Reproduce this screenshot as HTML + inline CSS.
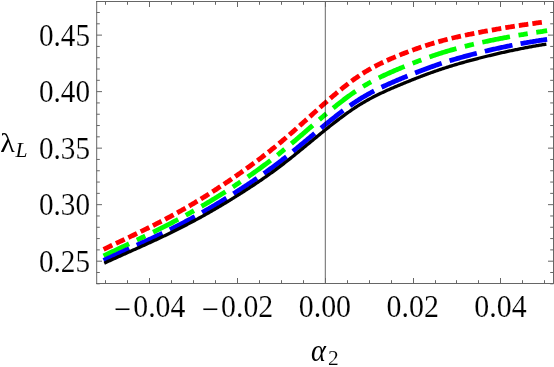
<!DOCTYPE html>
<html><head><meta charset="utf-8"><title>plot</title>
<style>
html,body{margin:0;padding:0;background:#fff;}
svg{display:block;}
text{font-family:"Liberation Serif",serif;fill:#000;stroke:#fff;stroke-width:0.12px;}
.it{font-style:italic;}
.ns{stroke:none;}
</style></head><body>
<svg width="554" height="367" viewBox="0 0 554 367">
<rect width="554" height="367" fill="#fff"/>
<path d="M105.75,248.29 L106.75,247.81 L107.75,247.34 L108.75,246.86 L109.75,246.39 L110.75,245.91 L111.75,245.44 L112.75,244.97 L113.75,244.49 L114.75,244.02 L115.75,243.54 L116.75,243.07 L117.75,242.60 L118.75,242.13 L119.75,241.65 L120.75,241.18 L121.75,240.71 L122.75,240.23 L123.75,239.76 L124.75,239.28 L125.75,238.81 L126.75,238.33 L127.75,237.86 L128.75,237.38 L129.75,236.91 L130.75,236.43 L131.75,235.95 L132.75,235.47 L133.75,234.99 L134.75,234.51 L135.75,234.03 L136.75,233.55 L137.75,233.07 L138.75,232.59 L139.75,232.10 L140.75,231.62 L141.75,231.13 L142.75,230.64 L143.75,230.15 L144.75,229.66 L145.75,229.17 L146.75,228.68 L147.75,228.18 L148.75,227.69 L149.75,227.19 L150.75,226.69 L151.75,226.19 L152.75,225.69 L153.75,225.19 L154.75,224.68 L155.75,224.17 L156.75,223.67 L157.75,223.15 L158.75,222.64 L159.75,222.13 L160.75,221.61 L161.75,221.09 L162.75,220.57 L163.75,220.05 L164.75,219.52 L165.75,218.99 L166.75,218.47 L167.75,217.93 L168.75,217.40 L169.75,216.86 L170.75,216.33 L171.75,215.79 L172.75,215.24 L173.75,214.70 L174.75,214.15 L175.75,213.60 L176.75,213.05 L177.75,212.50 L178.75,211.94 L179.75,211.38 L180.75,210.82 L181.75,210.26 L182.75,209.69 L183.75,209.13 L184.75,208.56 L185.75,207.98 L186.75,207.41 L187.75,206.83 L188.75,206.25 L189.75,205.67 L190.75,205.08 L191.75,204.49 L192.75,203.90 L193.75,203.31 L194.75,202.72 L195.75,202.12 L196.75,201.52 L197.75,200.91 L198.75,200.31 L199.75,199.70 L200.75,199.09 L201.75,198.48 L202.75,197.86 L203.75,197.24 L204.75,196.62 L205.75,196.00 L206.75,195.37 L207.75,194.74 L208.75,194.11 L209.75,193.47 L210.75,192.84 L211.75,192.20 L212.75,191.56 L213.75,190.91 L214.75,190.27 L215.75,189.62 L216.75,188.97 L217.75,188.31 L218.75,187.66 L219.75,187.00 L220.75,186.34 L221.75,185.67 L222.75,185.01 L223.75,184.34 L224.75,183.67 L225.75,183.00 L226.75,182.32 L227.75,181.65 L228.75,180.97 L229.75,180.29 L230.75,179.60 L231.75,178.92 L232.75,178.23 L233.75,177.54 L234.75,176.85 L235.75,176.15 L236.75,175.46 L237.75,174.76 L238.75,174.06 L239.75,173.36 L240.75,172.65 L241.75,171.95 L242.75,171.24 L243.75,170.53 L244.75,169.81 L245.75,169.10 L246.75,168.38 L247.75,167.66 L248.75,166.94 L249.75,166.21 L250.75,165.49 L251.75,164.75 L252.75,164.02 L253.75,163.29 L254.75,162.55 L255.75,161.81 L256.75,161.06 L257.75,160.31 L258.75,159.56 L259.75,158.81 L260.75,158.05 L261.75,157.29 L262.75,156.53 L263.75,155.76 L264.75,154.99 L265.75,154.21 L266.75,153.44 L267.75,152.66 L268.75,151.87 L269.75,151.08 L270.75,150.29 L271.75,149.49 L272.75,148.69 L273.75,147.89 L274.75,147.08 L275.75,146.27 L276.75,145.45 L277.75,144.63 L278.75,143.80 L279.75,142.97 L280.75,142.14 L281.75,141.30 L282.75,140.46 L283.75,139.61 L284.75,138.76 L285.75,137.91 L286.75,137.05 L287.75,136.19 L288.75,135.32 L289.75,134.46 L290.75,133.59 L291.75,132.71 L292.75,131.84 L293.75,130.96 L294.75,130.08 L295.75,129.19 L296.75,128.31 L297.75,127.42 L298.75,126.53 L299.75,125.64 L300.75,124.75 L301.75,123.85 L302.75,122.96 L303.75,122.06 L304.75,121.17 L305.75,120.27 L306.75,119.37 L307.75,118.47 L308.75,117.57 L309.75,116.67 L310.75,115.77 L311.75,114.87 L312.75,113.97 L313.75,113.07 L314.75,112.18 L315.75,111.28 L316.75,110.38 L317.75,109.49 L318.75,108.59 L319.75,107.70 L320.75,106.81 L321.75,105.91 L322.75,105.03 L323.75,104.14 L324.75,103.25 L325.75,102.37 L326.75,101.49 L327.75,100.62 L328.75,99.74 L329.75,98.87 L330.75,98.01 L331.75,97.14 L332.75,96.28 L333.75,95.43 L334.75,94.58 L335.75,93.73 L336.75,92.89 L337.75,92.05 L338.75,91.22 L339.75,90.40 L340.75,89.58 L341.75,88.76 L342.75,87.96 L343.75,87.16 L344.75,86.36 L345.75,85.57 L346.75,84.79 L347.75,84.02 L348.75,83.25 L349.75,82.49 L350.75,81.74 L351.75,81.00 L352.75,80.27 L353.75,79.54 L354.75,78.82 L355.75,78.11 L356.75,77.41 L357.75,76.73 L358.75,76.05 L359.75,75.38 L360.75,74.72 L361.75,74.07 L362.75,73.43 L363.75,72.80 L364.75,72.17 L365.75,71.56 L366.75,70.96 L367.75,70.37 L368.75,69.78 L369.75,69.21 L370.75,68.64 L371.75,68.08 L372.75,67.53 L373.75,66.99 L374.75,66.46 L375.75,65.93 L376.75,65.41 L377.75,64.90 L378.75,64.39 L379.75,63.89 L380.75,63.40 L381.75,62.92 L382.75,62.44 L383.75,61.96 L384.75,61.49 L385.75,61.03 L386.75,60.58 L387.75,60.12 L388.75,59.68 L389.75,59.24 L390.75,58.80 L391.75,58.37 L392.75,57.94 L393.75,57.52 L394.75,57.10 L395.75,56.68 L396.75,56.27 L397.75,55.86 L398.75,55.45 L399.75,55.05 L400.75,54.65 L401.75,54.25 L402.75,53.86 L403.75,53.46 L404.75,53.07 L405.75,52.69 L406.75,52.30 L407.75,51.92 L408.75,51.54 L409.75,51.17 L410.75,50.80 L411.75,50.43 L412.75,50.06 L413.75,49.70 L414.75,49.34 L415.75,48.98 L416.75,48.63 L417.75,48.28 L418.75,47.93 L419.75,47.58 L420.75,47.24 L421.75,46.90 L422.75,46.57 L423.75,46.24 L424.75,45.91 L425.75,45.58 L426.75,45.26 L427.75,44.94 L428.75,44.62 L429.75,44.31 L430.75,44.00 L431.75,43.69 L432.75,43.39 L433.75,43.09 L434.75,42.80 L435.75,42.50 L436.75,42.21 L437.75,41.92 L438.75,41.64 L439.75,41.36 L440.75,41.08 L441.75,40.81 L442.75,40.54 L443.75,40.27 L444.75,40.01 L445.75,39.75 L446.75,39.49 L447.75,39.23 L448.75,38.98 L449.75,38.73 L450.75,38.49 L451.75,38.24 L452.75,38.00 L453.75,37.76 L454.75,37.53 L455.75,37.29 L456.75,37.06 L457.75,36.83 L458.75,36.60 L459.75,36.38 L460.75,36.16 L461.75,35.94 L462.75,35.72 L463.75,35.50 L464.75,35.29 L465.75,35.07 L466.75,34.86 L467.75,34.65 L468.75,34.45 L469.75,34.24 L470.75,34.04 L471.75,33.84 L472.75,33.63 L473.75,33.43 L474.75,33.24 L475.75,33.04 L476.75,32.84 L477.75,32.65 L478.75,32.46 L479.75,32.26 L480.75,32.07 L481.75,31.88 L482.75,31.70 L483.75,31.51 L484.75,31.32 L485.75,31.14 L486.75,30.95 L487.75,30.77 L488.75,30.59 L489.75,30.41 L490.75,30.23 L491.75,30.05 L492.75,29.87 L493.75,29.69 L494.75,29.52 L495.75,29.34 L496.75,29.17 L497.75,29.00 L498.75,28.83 L499.75,28.66 L500.75,28.49 L501.75,28.32 L502.75,28.15 L503.75,27.98 L504.75,27.82 L505.75,27.65 L506.75,27.49 L507.75,27.33 L508.75,27.16 L509.75,27.00 L510.75,26.84 L511.75,26.68 L512.75,26.52 L513.75,26.37 L514.75,26.21 L515.75,26.06 L516.75,25.90 L517.75,25.75 L518.75,25.59 L519.75,25.44 L520.75,25.29 L521.75,25.14 L522.75,24.99 L523.75,24.84 L524.75,24.69 L525.75,24.54 L526.75,24.40 L527.75,24.25 L528.75,24.11 L529.75,23.96 L530.75,23.82 L531.75,23.68 L532.75,23.53 L533.75,23.39 L534.75,23.25 L535.75,23.11 L536.75,22.97 L537.75,22.83 L538.75,22.70 L539.75,22.56 L540.75,22.42 L541.75,22.29 L542.75,22.15 L543.75,22.02 L544.75,21.88" fill="none" stroke="#ff0000" stroke-width="4.8" stroke-linecap="square" stroke-dasharray="4.80 8.89"/>
<path d="M105.75,254.87 L106.75,254.39 L107.75,253.91 L108.75,253.43 L109.75,252.95 L110.75,252.47 L111.75,252.00 L112.75,251.52 L113.75,251.04 L114.75,250.57 L115.75,250.09 L116.75,249.62 L117.75,249.14 L118.75,248.67 L119.75,248.19 L120.75,247.72 L121.75,247.25 L122.75,246.77 L123.75,246.30 L124.75,245.83 L125.75,245.35 L126.75,244.88 L127.75,244.40 L128.75,243.93 L129.75,243.46 L130.75,242.98 L131.75,242.51 L132.75,242.03 L133.75,241.56 L134.75,241.08 L135.75,240.61 L136.75,240.13 L137.75,239.65 L138.75,239.17 L139.75,238.70 L140.75,238.22 L141.75,237.74 L142.75,237.26 L143.75,236.77 L144.75,236.29 L145.75,235.81 L146.75,235.32 L147.75,234.84 L148.75,234.35 L149.75,233.87 L150.75,233.38 L151.75,232.89 L152.75,232.40 L153.75,231.90 L154.75,231.41 L155.75,230.91 L156.75,230.42 L157.75,229.92 L158.75,229.42 L159.75,228.92 L160.75,228.42 L161.75,227.91 L162.75,227.41 L163.75,226.90 L164.75,226.39 L165.75,225.88 L166.75,225.36 L167.75,224.85 L168.75,224.33 L169.75,223.82 L170.75,223.30 L171.75,222.77 L172.75,222.25 L173.75,221.73 L174.75,221.20 L175.75,220.67 L176.75,220.14 L177.75,219.61 L178.75,219.07 L179.75,218.54 L180.75,218.00 L181.75,217.46 L182.75,216.92 L183.75,216.37 L184.75,215.83 L185.75,215.28 L186.75,214.73 L187.75,214.18 L188.75,213.62 L189.75,213.06 L190.75,212.51 L191.75,211.95 L192.75,211.38 L193.75,210.82 L194.75,210.25 L195.75,209.68 L196.75,209.11 L197.75,208.54 L198.75,207.96 L199.75,207.38 L200.75,206.80 L201.75,206.22 L202.75,205.63 L203.75,205.04 L204.75,204.45 L205.75,203.86 L206.75,203.27 L207.75,202.67 L208.75,202.07 L209.75,201.47 L210.75,200.86 L211.75,200.26 L212.75,199.65 L213.75,199.04 L214.75,198.42 L215.75,197.81 L216.75,197.19 L217.75,196.57 L218.75,195.94 L219.75,195.32 L220.75,194.69 L221.75,194.06 L222.75,193.43 L223.75,192.80 L224.75,192.16 L225.75,191.52 L226.75,190.88 L227.75,190.24 L228.75,189.60 L229.75,188.95 L230.75,188.30 L231.75,187.65 L232.75,187.00 L233.75,186.34 L234.75,185.68 L235.75,185.02 L236.75,184.36 L237.75,183.70 L238.75,183.03 L239.75,182.36 L240.75,181.69 L241.75,181.02 L242.75,180.34 L243.75,179.67 L244.75,178.99 L245.75,178.30 L246.75,177.62 L247.75,176.93 L248.75,176.24 L249.75,175.55 L250.75,174.86 L251.75,174.16 L252.75,173.46 L253.75,172.75 L254.75,172.05 L255.75,171.34 L256.75,170.62 L257.75,169.91 L258.75,169.19 L259.75,168.46 L260.75,167.74 L261.75,167.01 L262.75,166.28 L263.75,165.54 L264.75,164.80 L265.75,164.06 L266.75,163.31 L267.75,162.56 L268.75,161.81 L269.75,161.05 L270.75,160.29 L271.75,159.52 L272.75,158.75 L273.75,157.98 L274.75,157.20 L275.75,156.42 L276.75,155.63 L277.75,154.84 L278.75,154.04 L279.75,153.25 L280.75,152.44 L281.75,151.64 L282.75,150.82 L283.75,150.01 L284.75,149.19 L285.75,148.37 L286.75,147.54 L287.75,146.71 L288.75,145.88 L289.75,145.04 L290.75,144.20 L291.75,143.36 L292.75,142.52 L293.75,141.67 L294.75,140.82 L295.75,139.97 L296.75,139.12 L297.75,138.26 L298.75,137.41 L299.75,136.55 L300.75,135.69 L301.75,134.83 L302.75,133.97 L303.75,133.11 L304.75,132.24 L305.75,131.38 L306.75,130.52 L307.75,129.65 L308.75,128.79 L309.75,127.92 L310.75,127.06 L311.75,126.20 L312.75,125.33 L313.75,124.47 L314.75,123.61 L315.75,122.75 L316.75,121.89 L317.75,121.03 L318.75,120.18 L319.75,119.32 L320.75,118.47 L321.75,117.62 L322.75,116.77 L323.75,115.92 L324.75,115.08 L325.75,114.24 L326.75,113.40 L327.75,112.57 L328.75,111.73 L329.75,110.90 L330.75,110.08 L331.75,109.26 L332.75,108.44 L333.75,107.63 L334.75,106.82 L335.75,106.02 L336.75,105.22 L337.75,104.42 L338.75,103.63 L339.75,102.85 L340.75,102.07 L341.75,101.30 L342.75,100.53 L343.75,99.77 L344.75,99.01 L345.75,98.26 L346.75,97.52 L347.75,96.79 L348.75,96.06 L349.75,95.34 L350.75,94.62 L351.75,93.91 L352.75,93.21 L353.75,92.52 L354.75,91.84 L355.75,91.16 L356.75,90.50 L357.75,89.84 L358.75,89.19 L359.75,88.55 L360.75,87.92 L361.75,87.29 L362.75,86.68 L363.75,86.07 L364.75,85.48 L365.75,84.89 L366.75,84.31 L367.75,83.73 L368.75,83.17 L369.75,82.61 L370.75,82.06 L371.75,81.51 L372.75,80.98 L373.75,80.45 L374.75,79.93 L375.75,79.41 L376.75,78.90 L377.75,78.39 L378.75,77.90 L379.75,77.40 L380.75,76.91 L381.75,76.43 L382.75,75.96 L383.75,75.48 L384.75,75.02 L385.75,74.55 L386.75,74.09 L387.75,73.64 L388.75,73.19 L389.75,72.74 L390.75,72.30 L391.75,71.86 L392.75,71.43 L393.75,70.99 L394.75,70.56 L395.75,70.14 L396.75,69.71 L397.75,69.29 L398.75,68.87 L399.75,68.45 L400.75,68.03 L401.75,67.62 L402.75,67.21 L403.75,66.80 L404.75,66.39 L405.75,65.98 L406.75,65.57 L407.75,65.17 L408.75,64.77 L409.75,64.37 L410.75,63.97 L411.75,63.58 L412.75,63.19 L413.75,62.80 L414.75,62.41 L415.75,62.02 L416.75,61.64 L417.75,61.26 L418.75,60.88 L419.75,60.50 L420.75,60.13 L421.75,59.75 L422.75,59.38 L423.75,59.02 L424.75,58.65 L425.75,58.29 L426.75,57.93 L427.75,57.58 L428.75,57.22 L429.75,56.87 L430.75,56.52 L431.75,56.18 L432.75,55.84 L433.75,55.50 L434.75,55.16 L435.75,54.83 L436.75,54.50 L437.75,54.17 L438.75,53.84 L439.75,53.52 L440.75,53.20 L441.75,52.89 L442.75,52.57 L443.75,52.26 L444.75,51.96 L445.75,51.65 L446.75,51.35 L447.75,51.06 L448.75,50.76 L449.75,50.47 L450.75,50.18 L451.75,49.89 L452.75,49.61 L453.75,49.33 L454.75,49.05 L455.75,48.77 L456.75,48.50 L457.75,48.23 L458.75,47.96 L459.75,47.69 L460.75,47.43 L461.75,47.17 L462.75,46.91 L463.75,46.65 L464.75,46.40 L465.75,46.15 L466.75,45.90 L467.75,45.65 L468.75,45.40 L469.75,45.16 L470.75,44.92 L471.75,44.68 L472.75,44.44 L473.75,44.21 L474.75,43.97 L475.75,43.74 L476.75,43.51 L477.75,43.29 L478.75,43.06 L479.75,42.83 L480.75,42.61 L481.75,42.39 L482.75,42.17 L483.75,41.95 L484.75,41.74 L485.75,41.52 L486.75,41.31 L487.75,41.10 L488.75,40.88 L489.75,40.68 L490.75,40.47 L491.75,40.26 L492.75,40.06 L493.75,39.85 L494.75,39.65 L495.75,39.45 L496.75,39.25 L497.75,39.05 L498.75,38.86 L499.75,38.66 L500.75,38.47 L501.75,38.28 L502.75,38.09 L503.75,37.90 L504.75,37.71 L505.75,37.52 L506.75,37.33 L507.75,37.15 L508.75,36.97 L509.75,36.78 L510.75,36.60 L511.75,36.42 L512.75,36.24 L513.75,36.07 L514.75,35.89 L515.75,35.71 L516.75,35.54 L517.75,35.37 L518.75,35.20 L519.75,35.02 L520.75,34.85 L521.75,34.69 L522.75,34.52 L523.75,34.35 L524.75,34.19 L525.75,34.02 L526.75,33.86 L527.75,33.69 L528.75,33.53 L529.75,33.37 L530.75,33.21 L531.75,33.05 L532.75,32.90 L533.75,32.74 L534.75,32.58 L535.75,32.43 L536.75,32.27 L537.75,32.12 L538.75,31.97 L539.75,31.81 L540.75,31.66 L541.75,31.51 L542.75,31.36 L543.75,31.21 L544.75,31.06" fill="none" stroke="#00ff00" stroke-width="4.8" stroke-linecap="square" stroke-dasharray="23.40 13.45 4.57 13.45"/>
<path d="M105.75,259.42 L106.75,258.96 L107.75,258.49 L108.75,258.03 L109.75,257.57 L110.75,257.11 L111.75,256.65 L112.75,256.19 L113.75,255.73 L114.75,255.27 L115.75,254.81 L116.75,254.36 L117.75,253.90 L118.75,253.44 L119.75,252.99 L120.75,252.53 L121.75,252.08 L122.75,251.62 L123.75,251.17 L124.75,250.72 L125.75,250.26 L126.75,249.81 L127.75,249.35 L128.75,248.90 L129.75,248.45 L130.75,247.99 L131.75,247.54 L132.75,247.08 L133.75,246.63 L134.75,246.18 L135.75,245.72 L136.75,245.26 L137.75,244.81 L138.75,244.35 L139.75,243.90 L140.75,243.44 L141.75,242.98 L142.75,242.52 L143.75,242.06 L144.75,241.60 L145.75,241.14 L146.75,240.68 L147.75,240.21 L148.75,239.75 L149.75,239.28 L150.75,238.82 L151.75,238.35 L152.75,237.88 L153.75,237.41 L154.75,236.94 L155.75,236.46 L156.75,235.99 L157.75,235.51 L158.75,235.04 L159.75,234.56 L160.75,234.08 L161.75,233.59 L162.75,233.11 L163.75,232.62 L164.75,232.14 L165.75,231.65 L166.75,231.16 L167.75,230.66 L168.75,230.17 L169.75,229.67 L170.75,229.18 L171.75,228.68 L172.75,228.17 L173.75,227.67 L174.75,227.16 L175.75,226.66 L176.75,226.15 L177.75,225.64 L178.75,225.12 L179.75,224.61 L180.75,224.09 L181.75,223.57 L182.75,223.05 L183.75,222.53 L184.75,222.00 L185.75,221.47 L186.75,220.94 L187.75,220.41 L188.75,219.88 L189.75,219.34 L190.75,218.80 L191.75,218.26 L192.75,217.72 L193.75,217.18 L194.75,216.63 L195.75,216.08 L196.75,215.53 L197.75,214.97 L198.75,214.42 L199.75,213.86 L200.75,213.30 L201.75,212.73 L202.75,212.17 L203.75,211.60 L204.75,211.03 L205.75,210.46 L206.75,209.88 L207.75,209.31 L208.75,208.73 L209.75,208.14 L210.75,207.56 L211.75,206.97 L212.75,206.39 L213.75,205.79 L214.75,205.20 L215.75,204.61 L216.75,204.01 L217.75,203.41 L218.75,202.81 L219.75,202.21 L220.75,201.60 L221.75,200.99 L222.75,200.38 L223.75,199.77 L224.75,199.16 L225.75,198.54 L226.75,197.92 L227.75,197.30 L228.75,196.68 L229.75,196.06 L230.75,195.43 L231.75,194.80 L232.75,194.17 L233.75,193.54 L234.75,192.91 L235.75,192.27 L236.75,191.63 L237.75,190.99 L238.75,190.35 L239.75,189.71 L240.75,189.06 L241.75,188.42 L242.75,187.77 L243.75,187.12 L244.75,186.46 L245.75,185.81 L246.75,185.15 L247.75,184.49 L248.75,183.83 L249.75,183.17 L250.75,182.50 L251.75,181.83 L252.75,181.16 L253.75,180.48 L254.75,179.81 L255.75,179.13 L256.75,178.45 L257.75,177.76 L258.75,177.07 L259.75,176.38 L260.75,175.68 L261.75,174.99 L262.75,174.29 L263.75,173.58 L264.75,172.87 L265.75,172.16 L266.75,171.45 L267.75,170.73 L268.75,170.01 L269.75,169.28 L270.75,168.56 L271.75,167.82 L272.75,167.09 L273.75,166.35 L274.75,165.60 L275.75,164.85 L276.75,164.10 L277.75,163.34 L278.75,162.58 L279.75,161.82 L280.75,161.05 L281.75,160.28 L282.75,159.50 L283.75,158.72 L284.75,157.93 L285.75,157.14 L286.75,156.35 L287.75,155.55 L288.75,154.75 L289.75,153.95 L290.75,153.15 L291.75,152.34 L292.75,151.53 L293.75,150.71 L294.75,149.90 L295.75,149.08 L296.75,148.26 L297.75,147.44 L298.75,146.62 L299.75,145.79 L300.75,144.96 L301.75,144.14 L302.75,143.31 L303.75,142.48 L304.75,141.64 L305.75,140.81 L306.75,139.98 L307.75,139.15 L308.75,138.31 L309.75,137.48 L310.75,136.65 L311.75,135.81 L312.75,134.98 L313.75,134.15 L314.75,133.31 L315.75,132.48 L316.75,131.65 L317.75,130.82 L318.75,129.99 L319.75,129.16 L320.75,128.34 L321.75,127.51 L322.75,126.69 L323.75,125.87 L324.75,125.05 L325.75,124.23 L326.75,123.42 L327.75,122.61 L328.75,121.80 L329.75,121.00 L330.75,120.19 L331.75,119.39 L332.75,118.60 L333.75,117.81 L334.75,117.02 L335.75,116.24 L336.75,115.46 L337.75,114.68 L338.75,113.91 L339.75,113.15 L340.75,112.39 L341.75,111.63 L342.75,110.88 L343.75,110.14 L344.75,109.40 L345.75,108.67 L346.75,107.94 L347.75,107.22 L348.75,106.51 L349.75,105.81 L350.75,105.11 L351.75,104.41 L352.75,103.73 L353.75,103.05 L354.75,102.38 L355.75,101.72 L356.75,101.06 L357.75,100.42 L358.75,99.78 L359.75,99.15 L360.75,98.53 L361.75,97.92 L362.75,97.31 L363.75,96.72 L364.75,96.13 L365.75,95.55 L366.75,94.98 L367.75,94.41 L368.75,93.86 L369.75,93.31 L370.75,92.76 L371.75,92.23 L372.75,91.70 L373.75,91.17 L374.75,90.66 L375.75,90.15 L376.75,89.64 L377.75,89.14 L378.75,88.65 L379.75,88.16 L380.75,87.68 L381.75,87.20 L382.75,86.72 L383.75,86.26 L384.75,85.79 L385.75,85.33 L386.75,84.87 L387.75,84.42 L388.75,83.97 L389.75,83.53 L390.75,83.09 L391.75,82.65 L392.75,82.21 L393.75,81.78 L394.75,81.35 L395.75,80.92 L396.75,80.49 L397.75,80.07 L398.75,79.65 L399.75,79.23 L400.75,78.81 L401.75,78.39 L402.75,77.97 L403.75,77.56 L404.75,77.15 L405.75,76.74 L406.75,76.33 L407.75,75.92 L408.75,75.51 L409.75,75.11 L410.75,74.70 L411.75,74.30 L412.75,73.91 L413.75,73.51 L414.75,73.11 L415.75,72.72 L416.75,72.33 L417.75,71.94 L418.75,71.55 L419.75,71.17 L420.75,70.78 L421.75,70.40 L422.75,70.03 L423.75,69.65 L424.75,69.27 L425.75,68.90 L426.75,68.53 L427.75,68.17 L428.75,67.80 L429.75,67.44 L430.75,67.08 L431.75,66.72 L432.75,66.37 L433.75,66.02 L434.75,65.67 L435.75,65.32 L436.75,64.98 L437.75,64.64 L438.75,64.30 L439.75,63.96 L440.75,63.63 L441.75,63.30 L442.75,62.97 L443.75,62.65 L444.75,62.32 L445.75,62.00 L446.75,61.69 L447.75,61.37 L448.75,61.06 L449.75,60.75 L450.75,60.45 L451.75,60.14 L452.75,59.84 L453.75,59.54 L454.75,59.25 L455.75,58.95 L456.75,58.66 L457.75,58.37 L458.75,58.08 L459.75,57.80 L460.75,57.52 L461.75,57.23 L462.75,56.96 L463.75,56.68 L464.75,56.40 L465.75,56.13 L466.75,55.86 L467.75,55.59 L468.75,55.33 L469.75,55.06 L470.75,54.80 L471.75,54.54 L472.75,54.28 L473.75,54.02 L474.75,53.76 L475.75,53.51 L476.75,53.26 L477.75,53.01 L478.75,52.76 L479.75,52.51 L480.75,52.26 L481.75,52.02 L482.75,51.78 L483.75,51.53 L484.75,51.29 L485.75,51.05 L486.75,50.82 L487.75,50.58 L488.75,50.35 L489.75,50.12 L490.75,49.88 L491.75,49.65 L492.75,49.43 L493.75,49.20 L494.75,48.98 L495.75,48.75 L496.75,48.53 L497.75,48.31 L498.75,48.09 L499.75,47.87 L500.75,47.66 L501.75,47.45 L502.75,47.23 L503.75,47.02 L504.75,46.81 L505.75,46.61 L506.75,46.40 L507.75,46.19 L508.75,45.99 L509.75,45.79 L510.75,45.59 L511.75,45.39 L512.75,45.20 L513.75,45.00 L514.75,44.81 L515.75,44.61 L516.75,44.42 L517.75,44.24 L518.75,44.05 L519.75,43.86 L520.75,43.68 L521.75,43.50 L522.75,43.32 L523.75,43.14 L524.75,42.96 L525.75,42.78 L526.75,42.61 L527.75,42.44 L528.75,42.26 L529.75,42.10 L530.75,41.93 L531.75,41.76 L532.75,41.60 L533.75,41.43 L534.75,41.27 L535.75,41.11 L536.75,40.95 L537.75,40.80 L538.75,40.64 L539.75,40.49 L540.75,40.34 L541.75,40.19 L542.75,40.04 L543.75,39.89 L544.75,39.75" fill="none" stroke="#0000ff" stroke-width="4.8" stroke-linecap="square" stroke-dasharray="23.50 13.04"/>
<path d="M105.75,262.50 L106.75,262.04 L107.75,261.58 L108.75,261.12 L109.75,260.66 L110.75,260.21 L111.75,259.75 L112.75,259.30 L113.75,258.84 L114.75,258.39 L115.75,257.94 L116.75,257.49 L117.75,257.04 L118.75,256.59 L119.75,256.14 L120.75,255.69 L121.75,255.24 L122.75,254.79 L123.75,254.34 L124.75,253.90 L125.75,253.45 L126.75,253.00 L127.75,252.56 L128.75,252.11 L129.75,251.66 L130.75,251.21 L131.75,250.77 L132.75,250.32 L133.75,249.87 L134.75,249.43 L135.75,248.98 L136.75,248.53 L137.75,248.08 L138.75,247.63 L139.75,247.18 L140.75,246.73 L141.75,246.28 L142.75,245.83 L143.75,245.38 L144.75,244.93 L145.75,244.48 L146.75,244.02 L147.75,243.57 L148.75,243.11 L149.75,242.65 L150.75,242.20 L151.75,241.74 L152.75,241.28 L153.75,240.81 L154.75,240.35 L155.75,239.89 L156.75,239.42 L157.75,238.96 L158.75,238.49 L159.75,238.02 L160.75,237.55 L161.75,237.07 L162.75,236.60 L163.75,236.12 L164.75,235.65 L165.75,235.17 L166.75,234.68 L167.75,234.20 L168.75,233.72 L169.75,233.23 L170.75,232.74 L171.75,232.25 L172.75,231.76 L173.75,231.27 L174.75,230.77 L175.75,230.28 L176.75,229.78 L177.75,229.28 L178.75,228.77 L179.75,228.27 L180.75,227.76 L181.75,227.25 L182.75,226.74 L183.75,226.23 L184.75,225.71 L185.75,225.20 L186.75,224.68 L187.75,224.16 L188.75,223.63 L189.75,223.11 L190.75,222.58 L191.75,222.05 L192.75,221.52 L193.75,220.99 L194.75,220.45 L195.75,219.91 L196.75,219.37 L197.75,218.83 L198.75,218.28 L199.75,217.74 L200.75,217.19 L201.75,216.64 L202.75,216.08 L203.75,215.52 L204.75,214.97 L205.75,214.40 L206.75,213.84 L207.75,213.28 L208.75,212.71 L209.75,212.14 L210.75,211.56 L211.75,210.99 L212.75,210.41 L213.75,209.83 L214.75,209.25 L215.75,208.67 L216.75,208.08 L217.75,207.50 L218.75,206.91 L219.75,206.32 L220.75,205.72 L221.75,205.13 L222.75,204.53 L223.75,203.93 L224.75,203.33 L225.75,202.72 L226.75,202.12 L227.75,201.51 L228.75,200.90 L229.75,200.28 L230.75,199.67 L231.75,199.05 L232.75,198.44 L233.75,197.82 L234.75,197.20 L235.75,196.57 L236.75,195.95 L237.75,195.32 L238.75,194.69 L239.75,194.06 L240.75,193.43 L241.75,192.79 L242.75,192.15 L243.75,191.51 L244.75,190.87 L245.75,190.23 L246.75,189.59 L247.75,188.94 L248.75,188.29 L249.75,187.64 L250.75,186.98 L251.75,186.32 L252.75,185.66 L253.75,185.00 L254.75,184.34 L255.75,183.67 L256.75,183.00 L257.75,182.32 L258.75,181.65 L259.75,180.97 L260.75,180.28 L261.75,179.60 L262.75,178.91 L263.75,178.22 L264.75,177.52 L265.75,176.82 L266.75,176.12 L267.75,175.41 L268.75,174.70 L269.75,173.99 L270.75,173.27 L271.75,172.55 L272.75,171.83 L273.75,171.10 L274.75,170.37 L275.75,169.63 L276.75,168.89 L277.75,168.14 L278.75,167.39 L279.75,166.64 L280.75,165.88 L281.75,165.12 L282.75,164.35 L283.75,163.58 L284.75,162.81 L285.75,162.03 L286.75,161.25 L287.75,160.46 L288.75,159.68 L289.75,158.88 L290.75,158.09 L291.75,157.29 L292.75,156.49 L293.75,155.69 L294.75,154.89 L295.75,154.08 L296.75,153.27 L297.75,152.46 L298.75,151.64 L299.75,150.83 L300.75,150.01 L301.75,149.20 L302.75,148.38 L303.75,147.56 L304.75,146.74 L305.75,145.91 L306.75,145.09 L307.75,144.27 L308.75,143.45 L309.75,142.62 L310.75,141.80 L311.75,140.98 L312.75,140.15 L313.75,139.33 L314.75,138.51 L315.75,137.68 L316.75,136.86 L317.75,136.04 L318.75,135.22 L319.75,134.40 L320.75,133.59 L321.75,132.77 L322.75,131.96 L323.75,131.15 L324.75,130.34 L325.75,129.53 L326.75,128.72 L327.75,127.92 L328.75,127.12 L329.75,126.33 L330.75,125.53 L331.75,124.74 L332.75,123.95 L333.75,123.17 L334.75,122.39 L335.75,121.62 L336.75,120.85 L337.75,120.08 L338.75,119.32 L339.75,118.56 L340.75,117.81 L341.75,117.06 L342.75,116.32 L343.75,115.58 L344.75,114.85 L345.75,114.13 L346.75,113.41 L347.75,112.70 L348.75,111.99 L349.75,111.29 L350.75,110.60 L351.75,109.92 L352.75,109.24 L353.75,108.57 L354.75,107.90 L355.75,107.25 L356.75,106.60 L357.75,105.96 L358.75,105.33 L359.75,104.70 L360.75,104.09 L361.75,103.48 L362.75,102.89 L363.75,102.30 L364.75,101.71 L365.75,101.14 L366.75,100.57 L367.75,100.02 L368.75,99.46 L369.75,98.92 L370.75,98.38 L371.75,97.85 L372.75,97.33 L373.75,96.81 L374.75,96.30 L375.75,95.79 L376.75,95.29 L377.75,94.80 L378.75,94.31 L379.75,93.82 L380.75,93.34 L381.75,92.87 L382.75,92.40 L383.75,91.93 L384.75,91.47 L385.75,91.02 L386.75,90.56 L387.75,90.11 L388.75,89.67 L389.75,89.23 L390.75,88.79 L391.75,88.35 L392.75,87.92 L393.75,87.49 L394.75,87.06 L395.75,86.64 L396.75,86.21 L397.75,85.79 L398.75,85.37 L399.75,84.95 L400.75,84.54 L401.75,84.12 L402.75,83.71 L403.75,83.30 L404.75,82.88 L405.75,82.48 L406.75,82.07 L407.75,81.66 L408.75,81.26 L409.75,80.85 L410.75,80.45 L411.75,80.05 L412.75,79.65 L413.75,79.26 L414.75,78.86 L415.75,78.47 L416.75,78.08 L417.75,77.69 L418.75,77.30 L419.75,76.92 L420.75,76.53 L421.75,76.15 L422.75,75.77 L423.75,75.40 L424.75,75.02 L425.75,74.65 L426.75,74.28 L427.75,73.91 L428.75,73.55 L429.75,73.18 L430.75,72.82 L431.75,72.46 L432.75,72.11 L433.75,71.75 L434.75,71.40 L435.75,71.05 L436.75,70.71 L437.75,70.36 L438.75,70.02 L439.75,69.68 L440.75,69.35 L441.75,69.02 L442.75,68.69 L443.75,68.36 L444.75,68.03 L445.75,67.71 L446.75,67.39 L447.75,67.07 L448.75,66.76 L449.75,66.44 L450.75,66.13 L451.75,65.83 L452.75,65.52 L453.75,65.22 L454.75,64.91 L455.75,64.62 L456.75,64.32 L457.75,64.02 L458.75,63.73 L459.75,63.44 L460.75,63.15 L461.75,62.87 L462.75,62.58 L463.75,62.30 L464.75,62.02 L465.75,61.74 L466.75,61.46 L467.75,61.19 L468.75,60.91 L469.75,60.64 L470.75,60.37 L471.75,60.10 L472.75,59.84 L473.75,59.57 L474.75,59.31 L475.75,59.05 L476.75,58.79 L477.75,58.53 L478.75,58.27 L479.75,58.01 L480.75,57.76 L481.75,57.51 L482.75,57.25 L483.75,57.00 L484.75,56.75 L485.75,56.51 L486.75,56.26 L487.75,56.01 L488.75,55.77 L489.75,55.53 L490.75,55.29 L491.75,55.05 L492.75,54.81 L493.75,54.57 L494.75,54.34 L495.75,54.10 L496.75,53.87 L497.75,53.64 L498.75,53.41 L499.75,53.18 L500.75,52.95 L501.75,52.73 L502.75,52.50 L503.75,52.28 L504.75,52.06 L505.75,51.84 L506.75,51.62 L507.75,51.40 L508.75,51.18 L509.75,50.97 L510.75,50.76 L511.75,50.54 L512.75,50.33 L513.75,50.12 L514.75,49.92 L515.75,49.71 L516.75,49.51 L517.75,49.30 L518.75,49.10 L519.75,48.90 L520.75,48.70 L521.75,48.50 L522.75,48.31 L523.75,48.11 L524.75,47.92 L525.75,47.73 L526.75,47.54 L527.75,47.35 L528.75,47.16 L529.75,46.97 L530.75,46.79 L531.75,46.60 L532.75,46.42 L533.75,46.24 L534.75,46.06 L535.75,45.88 L536.75,45.71 L537.75,45.53 L538.75,45.36 L539.75,45.19 L540.75,45.02 L541.75,44.85 L542.75,44.68 L543.75,44.51 L544.75,44.35" fill="none" stroke="#000" stroke-width="3.3" stroke-linecap="square"/>
<path d="M325.3,1.5 V283.5" stroke="#000" stroke-opacity="0.6" stroke-width="1" fill="none"/>
<path d="M96,1.5 H554 M96,283.5 H554 M553.5,1 V284 M96.7,1 V284" fill="none" stroke="#666" stroke-width="1"/>
<path d="M105.50,1.5 v3.3 M105.50,283.5 v-3.3 M127.50,1.5 v3.3 M127.50,283.5 v-3.3 M149.50,1.5 v5.5 M149.50,283.5 v-5.5 M171.50,1.5 v3.3 M171.50,283.5 v-3.3 M193.50,1.5 v3.3 M193.50,283.5 v-3.3 M215.50,1.5 v3.3 M215.50,283.5 v-3.3 M237.50,1.5 v5.5 M237.50,283.5 v-5.5 M259.50,1.5 v3.3 M259.50,283.5 v-3.3 M281.50,1.5 v3.3 M281.50,283.5 v-3.3 M303.50,1.5 v3.3 M303.50,283.5 v-3.3 M325.50,1.5 v5.5 M325.50,283.5 v-5.5 M347.50,1.5 v3.3 M347.50,283.5 v-3.3 M369.50,1.5 v3.3 M369.50,283.5 v-3.3 M391.50,1.5 v3.3 M391.50,283.5 v-3.3 M413.50,1.5 v5.5 M413.50,283.5 v-5.5 M435.50,1.5 v3.3 M435.50,283.5 v-3.3 M456.50,1.5 v3.3 M456.50,283.5 v-3.3 M478.50,1.5 v3.3 M478.50,283.5 v-3.3 M500.50,1.5 v5.5 M500.50,283.5 v-5.5 M522.50,1.5 v3.3 M522.50,283.5 v-3.3 M544.50,1.5 v3.3 M544.50,283.5 v-3.3 M96.5,283.80 h3.3 M553.5,283.80 h-3.3 M96.5,272.49 h3.3 M553.5,272.49 h-3.3 M96.5,261.19 h5.5 M553.5,261.19 h-5.5 M96.5,249.88 h3.3 M553.5,249.88 h-3.3 M96.5,238.58 h3.3 M553.5,238.58 h-3.3 M96.5,227.28 h3.3 M553.5,227.28 h-3.3 M96.5,215.97 h3.3 M553.5,215.97 h-3.3 M96.5,204.67 h5.5 M553.5,204.67 h-5.5 M96.5,193.36 h3.3 M553.5,193.36 h-3.3 M96.5,182.06 h3.3 M553.5,182.06 h-3.3 M96.5,170.76 h3.3 M553.5,170.76 h-3.3 M96.5,159.45 h3.3 M553.5,159.45 h-3.3 M96.5,148.15 h5.5 M553.5,148.15 h-5.5 M96.5,136.84 h3.3 M553.5,136.84 h-3.3 M96.5,125.54 h3.3 M553.5,125.54 h-3.3 M96.5,114.24 h3.3 M553.5,114.24 h-3.3 M96.5,102.93 h3.3 M553.5,102.93 h-3.3 M96.5,91.63 h5.5 M553.5,91.63 h-5.5 M96.5,80.32 h3.3 M553.5,80.32 h-3.3 M96.5,69.02 h3.3 M553.5,69.02 h-3.3 M96.5,57.72 h3.3 M553.5,57.72 h-3.3 M96.5,46.41 h3.3 M553.5,46.41 h-3.3 M96.5,35.11 h5.5 M553.5,35.11 h-5.5 M96.5,23.80 h3.3 M553.5,23.80 h-3.3 M96.5,12.50 h3.3 M553.5,12.50 h-3.3" fill="none" stroke="#666" stroke-width="1"/>
<g opacity="0.999">
<text transform="translate(90.00,271.89) scale(1,1.1)" font-size="29.2" text-anchor="end">0.25</text>
<text transform="translate(90.00,215.37) scale(1,1.1)" font-size="29.2" text-anchor="end">0.30</text>
<text transform="translate(90.00,158.85) scale(1,1.1)" font-size="29.2" text-anchor="end">0.35</text>
<text transform="translate(90.00,102.33) scale(1,1.1)" font-size="29.2" text-anchor="end">0.40</text>
<text transform="translate(90.00,45.81) scale(1,1.1)" font-size="29.2" text-anchor="end">0.45</text>
<text transform="translate(185.40,316.70) scale(1.02,1.1)" font-size="29.2" text-anchor="end">0.04</text>
<text transform="translate(113.80,319.50) scale(1.04,1.1)" font-size="29.2" text-anchor="start">−</text>
<text transform="translate(273.20,316.70) scale(1.02,1.1)" font-size="29.2" text-anchor="end">0.02</text>
<text transform="translate(201.60,319.50) scale(1.04,1.1)" font-size="29.2" text-anchor="start">−</text>
<text transform="translate(324.90,316.70) scale(1.025,1.1)" font-size="29.2" text-anchor="middle">0.00</text>
<text transform="translate(412.70,316.70) scale(1.025,1.1)" font-size="29.2" text-anchor="middle">0.02</text>
<text transform="translate(500.50,316.70) scale(1.025,1.1)" font-size="29.2" text-anchor="middle">0.04</text>
<text transform="translate(0.30,151.70) scale(1.03,0.955)" font-size="29.2" text-anchor="start" class="ns">λ</text>
<text transform="translate(15.50,156.70) scale(1.08,1.05)" font-size="20" text-anchor="start" class="it ns">L</text>
<text transform="translate(311.00,360.80) scale(0.97,1.1)" font-size="29.2" text-anchor="start" class="it ns">α</text>
<text transform="translate(328.00,364.80) scale(1.1,1.08)" font-size="19.5" text-anchor="start">2</text>
</g>
</svg>
</body></html>
